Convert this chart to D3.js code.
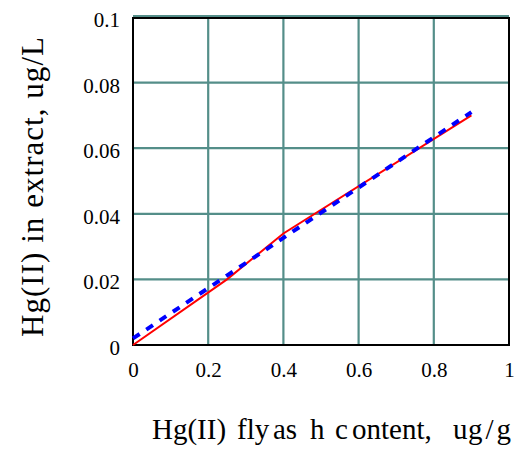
<!DOCTYPE html>
<html><head><meta charset="utf-8">
<script src="https://cdn.jsdelivr.net/npm/d3@7"></script>
<style>body{margin:0;background:#fff}svg{display:block}</style>
</head><body>
<script>
const xTicks=[0,0.2,0.4,0.6,0.8,1];
const yTicks=[0,0.02,0.04,0.06,0.08,0.1];
const xTickLabels=["0","0.2","0.4","0.6","0.8","1"];
const yTickLabels=["0","0.02","0.04","0.06","0.08","0.1"];
const measuredX=[0,0.25,0.4,0.9];
const measuredY=[0,0.02,0.034,0.07];
const fitX=[0,0.9];
const fitY=[0.002,0.071];
const xTitleParts=["Hg(II)","fly","as","h","c","ontent,","u","g/g"];
const yTitle="Hg(II) in extract, ug/L";

const FONT="Liberation Serif";
const W=516,H=449;
const svg=d3.select("body").append("svg").attr("width",W).attr("height",H);
const L=133,R=509,T=17,B=345;
const x=d3.scaleLinear().domain([0,1]).range([L,R]);
const y=d3.scaleLinear().domain([0,0.1]).range([B,T]);
const grid="#548e89";
const g=svg.append("g");
g.selectAll(".vg").data(xTicks.slice(1,-1)).join("line").attr("x1",d=>x(d)).attr("x2",d=>x(d)).attr("y1",T).attr("y2",B).attr("stroke",grid).attr("stroke-width",2.2);
g.selectAll(".hg").data(yTicks.slice(1)).join("line").attr("y1",d=>y(d)-(d===0.1?1:0)).attr("y2",d=>y(d)-(d===0.1?1:0)).attr("x1",L).attr("x2",R).attr("stroke",grid).attr("stroke-width",2.2);
g.append("path").attr("d",`M${L},${T+1}H${R}V${B}H${L}Z`).attr("fill","none").attr("stroke","#000").attr("stroke-width",2);

const line=d3.line().x(d=>x(d[0])).y(d=>y(d[1]));
svg.append("path").datum(measuredX.map((v,i)=>[v,measuredY[i]])).attr("d",line).attr("fill","none").attr("stroke","#ff0000").attr("stroke-width",2);
svg.append("path").datum(fitX.map((v,i)=>[v,fitY[i]])).attr("d",line).attr("fill","none").attr("stroke","#0000ff").attr("stroke-width",4).attr("stroke-dasharray","8,8");

const xa=svg.append("g").attr("transform",`translate(0,${B})`).call(d3.axisBottom(x).tickValues(xTicks).tickFormat((d,i)=>xTickLabels[i]).tickSize(0).tickPadding(17));
xa.select(".domain").remove();
xa.attr("font-family",FONT).attr("font-size",21);
xa.selectAll("text").attr("fill","#000").attr("font-family",FONT);
const ya=svg.append("g").attr("transform",`translate(${L},0)`).call(d3.axisLeft(y).tickValues(yTicks).tickFormat((d,i)=>yTickLabels[i]).tickSize(0).tickPadding(13));
ya.select(".domain").remove();
ya.attr("font-family",FONT).attr("font-size",21);
ya.selectAll("text").attr("fill","#000").attr("font-family",FONT).attr("dy","0.45em");

const xPos=[152,237,273,310,335,352,453,468];
const xt=svg.append("text").attr("y",439).attr("font-family",FONT).attr("font-size",29).attr("fill","#000");
xt.selectAll("tspan").data(xTitleParts).join("tspan").attr("x",(d,i)=>xPos[i]).attr("letter-spacing",(d,i)=>i===7?"3px":null).text(d=>d);
svg.append("text").attr("transform","translate(43,187) rotate(-90)").attr("text-anchor","middle").attr("font-family",FONT).attr("font-size",31).attr("textLength",300).attr("lengthAdjust","spacing").attr("fill","#000").text(yTitle);
// force text layout so the named font is resolved before the snapshot
svg.selectAll("text").each(function(){this.getComputedTextLength();});
</script>
</body></html>
